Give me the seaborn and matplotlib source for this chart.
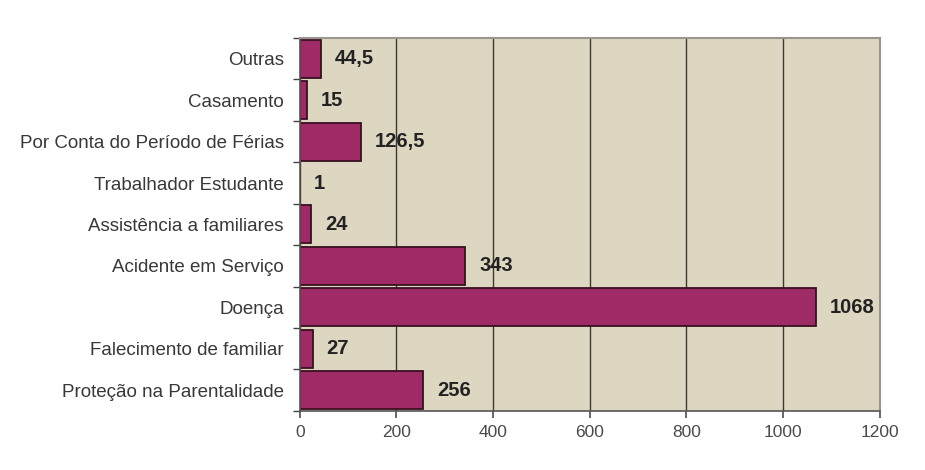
import matplotlib
matplotlib.use("Agg")
import matplotlib.pyplot as plt
import seaborn as sns
import pandas as pd
import numpy as np

categories = ["Outras", "Casamento", "Por Conta do Período de Férias",
              "Trabalhador Estudante", "Assistência a familiares",
              "Acidente em Serviço", "Doença", "Falecimento de familiar",
              "Proteção na Parentalidade"]
values = [44.5, 15, 126.5, 1, 24, 343, 1068, 27, 256]
value_labels = ["44,5", "15", "126,5", "1", "24", "343", "1068", "27", "256"]
xticks = [0, 200, 400, 600, 800, 1000, 1200]

df = pd.DataFrame({"cat": categories, "val": values})

sns.set_theme(style="white")
plt.rcParams['font.family'] = ['Liberation Sans', 'DejaVu Sans']

fig = plt.figure(figsize=(9.25, 4.7), dpi=100)
ax = fig.add_axes([0.324, 0.126, 0.627, 0.793])
ax.set_facecolor("#DDD6C1")

sns.barplot(data=df, x="val", y="cat", orient="h", color="#9E2A66",
            saturation=1, width=0.92, edgecolor="#3a1020", linewidth=1.3, ax=ax)

ax.set_xlim(0, 1200)
ax.set_ylim(len(categories) - 0.5, -0.5)
ax.set_xticks(xticks)
ax.set_xticklabels([str(t) for t in xticks], fontsize=12.5, color="#4a4a4a")
ax.xaxis.grid(True, color="#3a3a30", linewidth=1.0)
ax.set_axisbelow(True)
ax.set_xlabel("")
ax.set_ylabel("")
ax.set_yticks(np.arange(len(categories) + 1) - 0.5, minor=True)
ax.tick_params(axis="y", which="major", labelsize=13.5, labelcolor="#383838",
               length=0, pad=11.5)
ax.tick_params(axis="y", which="minor", length=5, color="#444444", width=1, left=True)
ax.tick_params(axis="x", length=5, color="#555555", pad=5, bottom=True)

for i, (v, lab) in enumerate(zip(values, value_labels)):
    ax.annotate(lab, (v, i), xytext=(10, 0), textcoords="offset points",
                va="center", ha="left", fontsize=14.5, fontweight="bold",
                color="#222222")

for s in ["top", "right"]:
    ax.spines[s].set_color("#9a9590")
    ax.spines[s].set_linewidth(1.5)
for s in ["left", "bottom"]:
    ax.spines[s].set_color("#555555")
    ax.spines[s].set_linewidth(1.2)

fig.savefig("out.png", dpi=100, facecolor="white")
